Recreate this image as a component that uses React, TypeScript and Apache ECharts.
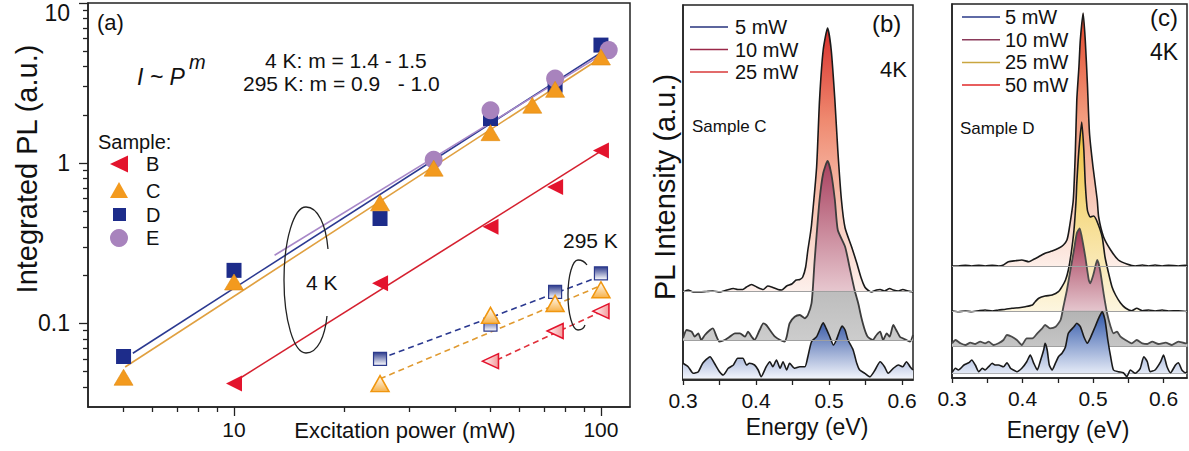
import React, { useEffect, useRef } from 'react';
import * as echarts from 'echarts';

const FONT = '"Liberation Sans", Arial, Helvetica, sans-serif';

// ---------- Panel (a): integrated PL vs excitation power ----------
const powerB4K = [10, 25, 50, 75, 100];
const plB4K = [0.042, 0.178, 0.4, 0.71, 1.2];
const powerC4K = [5, 10, 25, 35, 50, 65, 75, 100];
const plC4K = [0.046, 0.181, 0.565, 0.93, 1.55, 2.3, 2.89, 4.6];
const powerD4K = [5, 10, 25, 50, 75, 100];
const plD4K = [0.062, 0.214, 0.451, 1.9, 3.07, 5.46];
const powerE4K = [35, 50, 75, 105];
const plE4K = [1.05, 2.14, 3.38, 5.08];

const powerB295 = [50, 75, 100];
const plB295 = [0.058, 0.0895, 0.119];
const powerC295 = [25, 50, 75, 100];
const plC295 = [0.042, 0.112, 0.133, 0.162];
const powerD295 = [25, 50, 75, 100];
const plD295 = [0.06, 0.098, 0.157, 0.205];

// power-law fits (end points)
const fitB4K = [[10, 0.043], [103, 1.24]];
const fitC4K = [[5.05, 0.0533], [100, 4.55]];
const fitD4K = [[5.3, 0.065], [100, 4.9]];
const fitE4K = [[12.9, 0.266], [107, 5.2]];
const fitB295 = [[52, 0.059], [100, 0.118]];
const fitC295 = [[25, 0.045], [100, 0.172]];
const fitD295 = [[25, 0.06], [100, 0.197]];

const xRangeA = [4, 120];
const yRangeA = [0.03, 10];
const xTicksA = [10, 100];
const xMinorA = [5, 6, 7, 8, 9, 20, 30, 40, 50, 60, 70, 80, 90];
const yTicksA = [0.1, 1, 10];
const yMinorA = [0.04, 0.05, 0.06, 0.07, 0.08, 0.09, 0.2, 0.3, 0.4, 0.5, 0.6, 0.7, 0.8, 0.9, 2, 3, 4, 5, 6, 7, 8, 9];

// ---------- Panel (b): Sample C spectra (energy eV, offset intensity a.u.) ----------
const bC25 = [[0.3,88],[0.307,90],[0.314,88],[0.323,88],[0.332,88.5],[0.341,89],[0.35,88],[0.36,90],[0.369,91.5],[0.375,90.5],[0.382,90.5],[0.387,93],[0.394,95.5],[0.401,93],[0.41,90.5],[0.416,94],[0.423,92.5],[0.43,90.5],[0.435,90],[0.442,94],[0.449,96],[0.455,100],[0.46,100.5],[0.464,103],[0.468,113],[0.471,130],[0.474,144],[0.476,155],[0.483,213],[0.487,280],[0.492,330],[0.498,352],[0.503,330],[0.508,280],[0.512,230],[0.517,180],[0.522,152],[0.531,133],[0.538,117],[0.544,102],[0.549,93],[0.553,90],[0.558,88],[0.565,90],[0.57,90.5],[0.576,89],[0.583,91.5],[0.588,90],[0.595,89],[0.601,90.5],[0.608,89],[0.615,88]];
const bC10 = [[0.3,41.7],[0.305,50],[0.312,48.3],[0.316,43.3],[0.321,46.7],[0.325,40],[0.33,45],[0.337,50],[0.341,51.7],[0.346,43.3],[0.35,38.3],[0.357,40],[0.364,43.3],[0.371,46.7],[0.378,46.7],[0.385,43.3],[0.389,48.3],[0.394,43.3],[0.398,40],[0.405,50],[0.41,56.7],[0.414,55],[0.419,50],[0.426,43.3],[0.433,40],[0.439,38.3],[0.442,43.3],[0.446,56.7],[0.453,63.3],[0.46,65],[0.467,61.7],[0.471,65],[0.476,76.7],[0.478,93.3],[0.48,116.7],[0.483,145],[0.487,180],[0.492,206.7],[0.498,219],[0.503,206.7],[0.508,180],[0.512,150],[0.522,133.3],[0.528,113.3],[0.535,90],[0.54,76.7],[0.544,63.3],[0.549,50],[0.553,43.3],[0.56,40],[0.565,45],[0.57,48.3],[0.574,40],[0.579,46.7],[0.583,43.3],[0.588,55],[0.592,50],[0.597,43.3],[0.601,41.7],[0.606,40],[0.611,38.3],[0.615,45]];
const bC5 = [[0.3,16.7],[0.307,13.3],[0.314,6.7],[0.321,8.3],[0.327,16.7],[0.337,23.3],[0.343,16.7],[0.35,8.3],[0.355,5],[0.362,11.7],[0.369,15],[0.375,21.7],[0.382,21.7],[0.387,15],[0.391,16.7],[0.398,15],[0.403,10],[0.407,3.3],[0.414,13.3],[0.419,18.3],[0.423,13.3],[0.428,20],[0.433,11.7],[0.437,18.3],[0.442,10],[0.446,16.7],[0.453,11.7],[0.46,13.3],[0.467,13.3],[0.471,23.3],[0.476,38.3],[0.483,43.3],[0.49,55],[0.492,57.3],[0.496,51.7],[0.501,43.3],[0.506,35],[0.51,40],[0.515,50],[0.518,54],[0.522,50],[0.526,40],[0.533,30],[0.538,16.7],[0.542,10],[0.549,6.7],[0.556,3.3],[0.563,10],[0.57,18.3],[0.576,13.3],[0.581,6.7],[0.588,11.7],[0.595,15],[0.601,13.3],[0.606,18.3],[0.611,13.3],[0.615,10]];
const bBase = { p25: 89, p10: 40, p5: 2 };

// ---------- Panel (c): Sample D spectra ----------
const cC50 = [[0.3,112],[0.309,112],[0.319,112.7],[0.328,112],[0.338,112.7],[0.347,112],[0.357,112.7],[0.366,112],[0.373,113],[0.38,116.3],[0.39,117.3],[0.399,118],[0.409,116.3],[0.416,118.7],[0.423,121.3],[0.432,124.7],[0.442,127],[0.451,129.7],[0.458,133],[0.463,138],[0.466,148],[0.472,178],[0.475,228],[0.477,278],[0.48,311],[0.482,338],[0.486,365],[0.489,338],[0.492,295],[0.495,245],[0.5,211],[0.506,178],[0.508,161],[0.515,141],[0.525,128],[0.536,118],[0.548,114],[0.56,112],[0.57,113],[0.579,112],[0.588,113],[0.598,112],[0.607,112.7],[0.621,112],[0.631,112.7],[0.634,112]];
const cC25 = [[0.3,67],[0.309,66.3],[0.319,67],[0.328,66.3],[0.338,67.3],[0.347,68],[0.357,67],[0.366,68],[0.376,68.7],[0.385,69.7],[0.395,70.3],[0.404,71.3],[0.414,73],[0.418,76.3],[0.423,79.7],[0.432,82],[0.442,83],[0.451,86.3],[0.456,91.3],[0.461,98],[0.465,108],[0.469,124.7],[0.473,148],[0.476,178],[0.477,194.7],[0.48,228],[0.484,256],[0.487,228],[0.489,194.7],[0.492,168],[0.496,161],[0.501,162],[0.506,156],[0.513,141],[0.517,121],[0.522,105],[0.527,91],[0.532,83],[0.539,75],[0.546,70],[0.555,67.3],[0.562,69.7],[0.57,67.3],[0.579,68],[0.588,67],[0.598,68],[0.607,67],[0.621,67.3],[0.634,66.5]];
const cC10 = [[0.3,34.7],[0.305,38],[0.312,34.7],[0.319,33],[0.326,35.3],[0.333,34],[0.34,36.3],[0.347,34.7],[0.352,36.3],[0.359,33],[0.366,34.7],[0.373,38],[0.378,43],[0.385,41.3],[0.392,38],[0.399,33],[0.406,39.7],[0.414,39.7],[0.421,44.7],[0.428,49.7],[0.432,53],[0.439,49.7],[0.447,51.3],[0.454,58],[0.458,71.3],[0.463,88],[0.468,108],[0.473,128],[0.477,144.7],[0.481,149.7],[0.484,141.3],[0.489,121.3],[0.494,98],[0.496,94.7],[0.501,104.7],[0.506,118],[0.51,108],[0.515,84.7],[0.52,64.7],[0.525,51.3],[0.529,44.7],[0.534,46.3],[0.539,41.3],[0.546,38],[0.555,34.7],[0.562,38],[0.57,34.7],[0.577,34],[0.584,36.3],[0.593,34],[0.603,35.3],[0.612,33],[0.621,36.3],[0.631,34.7],[0.634,35]];
const cC5 = [[0.3,5.3],[0.305,9.7],[0.309,8],[0.317,13],[0.324,15.3],[0.328,18],[0.333,13],[0.338,6.3],[0.343,9.7],[0.347,8],[0.352,11.3],[0.357,14.7],[0.361,13],[0.366,13],[0.373,11.3],[0.378,15.3],[0.383,9.7],[0.387,8],[0.392,6.3],[0.399,9.7],[0.406,16.3],[0.411,23],[0.416,14.7],[0.421,8],[0.425,16.3],[0.43,28],[0.432,34.7],[0.435,28],[0.438,13],[0.442,8],[0.447,15.3],[0.451,21.3],[0.456,24.7],[0.461,31.3],[0.465,44.7],[0.473,51.3],[0.477,54.7],[0.482,51.3],[0.487,41.3],[0.492,34.7],[0.496,39.7],[0.503,51.3],[0.509,61.3],[0.513,66.3],[0.517,58],[0.521,38],[0.525,21.3],[0.529,8],[0.536,6.3],[0.543,5.3],[0.548,1.3],[0.553,8],[0.56,4.7],[0.567,9.7],[0.572,21.3],[0.577,16.3],[0.581,6.3],[0.588,8],[0.596,16.3],[0.6,23],[0.605,11.3],[0.61,5.3],[0.617,13],[0.621,15.3],[0.626,8],[0.631,5.3],[0.634,6]];
const cBase = { p50: 112, p25: 67, p10: 31.3, p5: 4.7 };

const energyTicks = [0.3, 0.35, 0.4, 0.45, 0.5, 0.55, 0.6];
const energyLabels = [0.3, 0.4, 0.5, 0.6];
const legendB = ['5 mW', '10 mW', '25 mW'];
const legendC = ['5 mW', '10 mW', '25 mW', '50 mW'];

const lg = (v: number) => Math.log10(v);
const pts = (xs: number[], ys: number[]) => xs.map((x, i) => [lg(x), lg(ys[i])]);
const fitPts = (f: number[][]) => f.map(([x, y]) => [lg(x), lg(y)]);

const lin = (x2: number, y2: number, stops: [number, string][]) => ({
  type: 'linear', x: 0, y: 0, x2, y2,
  colorStops: stops.map(([offset, color]) => ({ offset, color })),
});
const glin = (yTop: number, yBot: number, stops: [number, string][]) => ({
  type: 'linear', x: 0, y: yTop, x2: 0, y2: yBot, global: true,
  colorStops: stops.map(([offset, color]) => ({ offset, color })),
});

const AX = '#222';

function buildOption() {
  const txt = (x: number, y: number, text: string, size: number, extra: any = {}) => ({
    type: 'text', x, y, z: 100,
    style: { text, fontSize: size, fontFamily: FONT, fill: '#111', align: 'left', verticalAlign: 'middle', ...extra },
  });
  const bz = (x1: number, y1: number, c1x: number, c1y: number, c2x: number, c2y: number, x2: number, y2: number) => ({
    type: 'bezierCurve', z: 50,
    shape: { x1, y1, cpx1: c1x, cpy1: c1y, cpx2: c2x, cpy2: c2y, x2, y2 },
    style: { stroke: '#222', lineWidth: 1.3, fill: null },
  });
  const legLine = (x: number, y: number, color: string) => ({
    type: 'line', z: 100, shape: { x1: x, y1: y, x2: x + 38, y2: y }, style: { stroke: color, lineWidth: 1.5 },
  });

  const bColors = ['#26327c', '#9a2848', '#d83a3a'];
  const cColors = ['#2a3a88', '#8a3a5a', '#c9a640', '#e02828'];

  const graphic: any[] = [
    // panel (a)
    txt(97, 22, '(a)', 22),
    txt(137, 77, 'I ~ P', 23, { fontStyle: 'italic' }),
    txt(189, 62, 'm', 20, { fontStyle: 'italic' }),
    txt(265, 60, '4 K: m = 1.4 - 1.5', 21),
    txt(243, 83, '295 K: m = 0.9   - 1.0', 21),
    txt(98, 142, 'Sample:', 20),
    { type: 'polygon', z: 100, shape: { points: [[110, 164], [128, 155.5], [128, 172.5]] }, style: { fill: '#e3142d' } },
    { type: 'polygon', z: 100, shape: { points: [[110, 198], [119, 182], [128, 198]] }, style: { fill: '#f39a1e' } },
    { type: 'rect', z: 100, shape: { x: 113, y: 208, width: 13, height: 13 }, style: { fill: '#1d2c8a' } },
    { type: 'circle', z: 100, shape: { cx: 119, cy: 238, r: 9 }, style: { fill: '#a883bd' } },
    txt(146, 164, 'B', 20), txt(146, 191, 'C', 20), txt(146, 215, 'D', 20), txt(146, 238, 'E', 20),
    txt(306, 282, '4 K', 21),
    txt(563, 240, '295 K', 21),
    bz(306, 207, 293.9, 207, 284, 239.7, 284, 280),
    bz(284, 280, 284, 320.3, 293.9, 353, 306, 353),
    bz(306, 353, 318, 353, 325, 336, 327, 316),
    bz(306, 207, 318, 207, 326, 225, 328, 249),
    bz(578, 260, 572.5, 260, 568, 275.7, 568, 295),
    bz(568, 295, 568, 314.3, 572.5, 330, 578, 330),
    bz(578, 330, 582, 330, 584, 328, 585, 325),
    bz(578, 260, 582, 260, 585, 262, 587, 265),
    txt(405, 430, 'Excitation power (mW)', 22, { align: 'center' }),
    { type: 'text', x: 27, y: 169, rotation: Math.PI / 2, z: 100,
      style: { text: 'Integrated PL (a.u.)', fontSize: 29, fontFamily: FONT, fill: '#111', align: 'center', verticalAlign: 'middle' } },
    // panel (b)
    { type: 'text', x: 665, y: 187, rotation: Math.PI / 2, z: 100,
      style: { text: 'PL Intensity (a.u.)', fontSize: 29, fontFamily: FONT, fill: '#111', align: 'center', verticalAlign: 'middle' } },
    ...legendB.map((t, i) => legLine(690, 27 + i * 22.5, bColors[i])),
    ...legendB.map((t, i) => txt(735, 27 + i * 22.5, t, 20)),
    txt(872, 23, '(b)', 24),
    txt(880, 69, '4K', 22),
    txt(692, 126, 'Sample C', 17),
    txt(807, 427, 'Energy (eV)', 23, { align: 'center' }),
    // panel (c)
    ...legendC.map((t, i) => legLine(962, 17 + i * 22.7, cColors[i])),
    ...legendC.map((t, i) => txt(1005, 17 + i * 22.7, t, 20)),
    txt(1150, 17, '(c)', 24),
    txt(1150, 52, '4K', 23),
    txt(960, 128, 'Sample D', 17),
    txt(1068, 430, 'Energy (eV)', 23, { align: 'center' }),
  ];

  const scatter = (xs: number[], ys: number[], symbol: string, size: any, color: any, extra: any = {}) => ({
    type: 'scatter', xAxisIndex: 0, yAxisIndex: 0, data: pts(xs, ys), symbol, symbolSize: size,
    itemStyle: { color, opacity: 1, ...(extra.itemStyle || {}) },
    symbolRotate: extra.rotate || 0, z: extra.z || 5, silent: true,
  });
  const fit = (f: number[][], color: string, dashed = false) => ({
    type: 'line', xAxisIndex: 0, yAxisIndex: 0, data: fitPts(f), symbol: 'none', silent: true, z: 3,
    lineStyle: { color, width: 1.6, type: dashed ? [6, 4] : 'solid' },
  });
  const spec = (idx: number, data: number[][], base: number, lineColor: string, area: any, z: number, lw = 1.6) => ({
    type: 'line', xAxisIndex: idx, yAxisIndex: idx, data, smooth: 0.2, symbol: 'none', silent: true, z,
    lineStyle: { color: lineColor, width: lw },
    areaStyle: { color: area, origin: base, opacity: 1 },
    markLine: { silent: true, symbol: 'none', label: { show: false }, lineStyle: { color: '#a0a0a0', width: 1, type: 'solid' }, data: [{ yAxis: base }] },
  });

  const series: any[] = [
    fit(fitC4K, '#e0a040'), fit(fitD4K, '#2b3990'), fit(fitE4K, '#a888c8'), fit(fitB4K, '#d5202f'),
    fit(fitD295, '#2b3990', true), fit(fitC295, '#e09a30', true), fit(fitB295, '#e0303a', true),
    scatter(powerD4K, plD4K, 'rect', 15, '#1d2c8a'),
    scatter(powerE4K, plE4K, 'circle', 18, '#a883bd'),
    scatter(powerC4K, plC4K, 'triangle', [19, 16], '#f39a1e', { itemStyle: { borderColor: '#e08a10', borderWidth: 0.6 } }),
    scatter(powerB4K, plB4K, 'triangle', [16, 16], '#e3142d', { rotate: 90 }),
    scatter(powerD295, plD295, 'rect', 13, lin(0, 1, [[0, '#2c3a8c'], [1, '#ffffff']]), { itemStyle: { borderColor: '#2c3a8c', borderWidth: 1.2 } }),
    scatter(powerC295, plC295, 'triangle', [18, 16], lin(0, 1, [[0, '#ffffff'], [1, '#f7b24a']]), { itemStyle: { borderColor: '#f0960f', borderWidth: 1.5 } }),
    scatter(powerB295, plB295, 'triangle', [15, 16], lin(0, 1, [[0, '#ffffff'], [1, '#f49a9a']]), { rotate: 90, itemStyle: { borderColor: '#e3142d', borderWidth: 1.5 } }),
    // panel (b)
    spec(2, bC25, bBase.p25, '#1a1a1a', lin(0, 1, [[0, '#d9302c'], [0.35, '#ef8a70'], [0.7, '#f8c8b8'], [1, '#fdf0ec']]), 2),
    spec(2, bC10, bBase.p10, '#3c3c3c', glin(161, 342, [[0, '#a8405e'], [0.715, '#e6c6ce'], [0.72, '#bdbdbd'], [1, '#cdcdcd']]), 3, 1.8),
    spec(2, bC5, bBase.p5, '#1a1a1a', lin(0, 1, [[0, '#3b5ca8'], [1, '#f0f3fb']]), 4),
    // panel (c)
    spec(3, cC50, cBase.p50, '#1a1a1a', lin(0, 1, [[0, '#e2452a'], [0.4, '#f29a7c'], [1, '#fdeee8']]), 2),
    spec(3, cC25, cBase.p25, '#1a1a1a', lin(0, 1, [[0, '#eebf38'], [0.5, '#f6dc8c'], [1, '#fdf6e0']]), 3),
    spec(3, cC10, cBase.p10, '#4a4a4a', glin(228, 347, [[0, '#a0304e'], [0.69, '#e4c4cc'], [0.70, '#b4b4b4'], [1, '#c6c6c6']]), 4, 1.8),
    spec(3, cC5, cBase.p5, '#1a1a1a', lin(0, 1, [[0, '#2f56a8'], [1, '#eef2fb']]), 5),
  ];

  const gridBox = { show: true, borderColor: AX, borderWidth: 1.5, backgroundColor: 'transparent', containLabel: false };
  const axLine = { show: true, onZero: false, lineStyle: { color: AX, width: 1.5 } };
  const noLine = { show: false, onZero: false };
  const noSplit = { show: false };
  const tickStyle = { color: AX, width: 1.3 };

  const energyAxis = (grid: number, max: number) => ({
    type: 'value', gridIndex: grid, min: 0.3, max,
    axisLine: axLine, splitLine: noSplit,
    axisTick: { show: true, customValues: energyTicks, length: 5, lineStyle: tickStyle },
    axisLabel: { customValues: energyLabels, formatter: (v: number) => v.toFixed(1), fontSize: 21, fontFamily: FONT, color: '#111', margin: 10 },
  });

  return {
    animation: false,
    textStyle: { fontFamily: FONT },
    grid: [
      { left: 88, top: 3, width: 542, height: 404, ...gridBox },
      { left: 683, top: 5, width: 230, height: 375, ...gridBox },
      { left: 952, top: 4, width: 235, height: 374, ...gridBox },
    ],
    xAxis: [
      {
        type: 'value', gridIndex: 0, min: lg(xRangeA[0]), max: lg(xRangeA[1]), position: 'bottom',
        axisLine: axLine, splitLine: noSplit,
        axisTick: { show: true, customValues: xTicksA.map(lg), length: 9, lineStyle: tickStyle },
        axisLabel: { customValues: xTicksA.map(lg), formatter: (v: number) => String(Math.round(Math.pow(10, v))), fontSize: 21, fontFamily: FONT, color: '#111', margin: 12 },
      },
      {
        type: 'value', gridIndex: 0, min: lg(xRangeA[0]), max: lg(xRangeA[1]), position: 'bottom',
        axisLine: noLine, splitLine: noSplit, axisLabel: { show: false },
        axisTick: { show: true, customValues: xMinorA.map(lg), length: 5, lineStyle: tickStyle },
      },
      energyAxis(1, 0.615),
      energyAxis(2, 0.6333),
    ],
    yAxis: [
      {
        type: 'value', gridIndex: 0, min: lg(yRangeA[0]), max: lg(yRangeA[1]), position: 'left',
        axisLine: axLine, splitLine: noSplit,
        axisTick: { show: true, customValues: yTicksA.map(lg), length: 9, lineStyle: tickStyle },
        axisLabel: {
          customValues: yTicksA.map(lg), fontSize: 23, fontFamily: FONT, color: '#111', margin: 18,
          formatter: (v: number) => {
            const val = Math.pow(10, v);
            if (Math.abs(v - 1) < 1e-9) return '{top|10}';
            return val >= 1 ? String(Math.round(val)) : String(Number(val.toPrecision(1)));
          },
          rich: { top: { fontSize: 23, fontFamily: FONT, color: '#111', padding: [19, 0, 0, 0] } },
        },
      },
      {
        type: 'value', gridIndex: 0, min: lg(yRangeA[0]), max: lg(yRangeA[1]), position: 'left',
        axisLine: noLine, splitLine: noSplit, axisLabel: { show: false },
        axisTick: { show: true, customValues: yMinorA.map(lg), length: 5, lineStyle: tickStyle },
      },
      { type: 'value', gridIndex: 1, min: 0, max: 375, axisLine: axLine, axisTick: { show: false }, axisLabel: { show: false }, splitLine: noSplit },
      { type: 'value', gridIndex: 2, min: 0, max: 374, axisLine: axLine, axisTick: { show: false }, axisLabel: { show: false }, splitLine: noSplit },
    ],
    graphic: { elements: graphic },
    series,
  };
}

export default function App() {
  const ref = useRef<HTMLDivElement>(null);
  useEffect(() => {
    document.body.style.margin = '0';
    const chart = echarts.init(ref.current!, undefined, { renderer: 'svg' });
    chart.setOption(buildOption() as any);
    return () => chart.dispose();
  }, []);
  return <div ref={ref} style={{ width: 1189, height: 451, background: '#fff' }} />;
}
